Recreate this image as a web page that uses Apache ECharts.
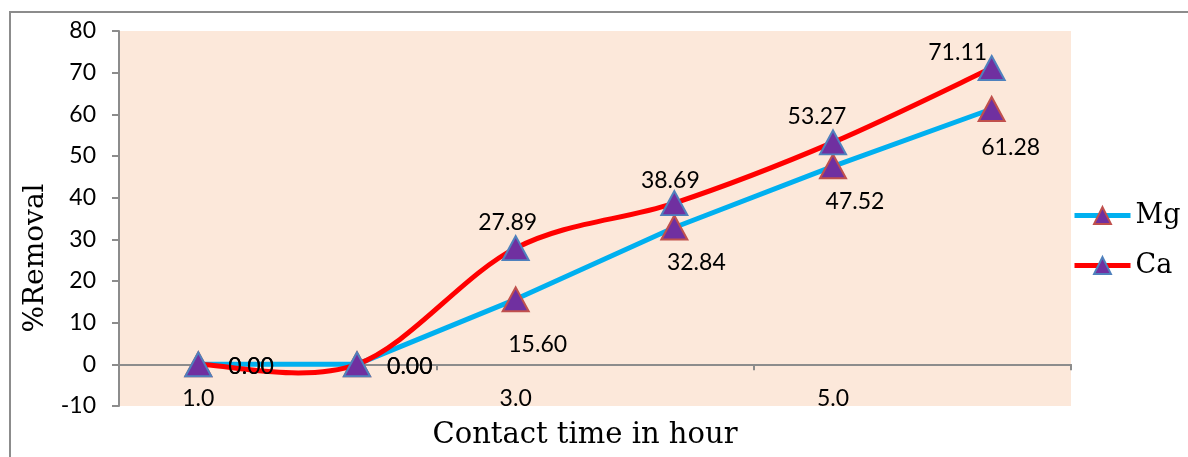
<!DOCTYPE html>
<html>
<head>
<meta charset="utf-8">
<script src="https://cdn.jsdelivr.net/npm/echarts@6/dist/echarts.min.js"></script>
<style>
html,body{margin:0;padding:0;background:#fff;}
#c{width:1188px;height:457px;}
</style>
</head>
<body>
<div id="c"></div>
<script>
const categories = ['1.0', '2.0', '3.0', '4.0', '5.0', '6.0'];
const mgValues = [0.00, 0.00, 15.60, 32.84, 47.52, 61.28];
const caValues = [0.00, 0.00, 27.89, 38.69, 53.27, 71.11];
const yTicks = { min: -10, max: 80, interval: 10 };

const chart = echarts.init(document.getElementById('c'));
const sansFont = 'Lato';
const serifFont = 'DejaVu Serif';
const tickStyle = { fontFamily: sansFont, fontSize: 23, color: '#000' };
const lblStyle = { fontFamily: sansFont, fontSize: 23, color: '#000' };

function fmt(v) { return v.toFixed(2); }

const mgData = mgValues.map((v, i) => {
  const lab = i < 2
    ? { position: 'right', distance: 16, offset: [0, 2] }
    : { position: 'bottom', distance: i === 2 ? 21 : (i === 5 ? 14 : 11), offset: [i === 5 ? 19 : 22, 0] };
  return { value: v, label: lab };
});
const caData = caValues.map((v, i) => {
  let lab;
  if (i < 2) lab = { position: 'right', distance: 16, offset: [0, 2] };
  else if (i === 5) lab = { position: 'top', distance: -9, offset: [-34, 0] };
  else lab = { position: 'top', distance: i === 3 ? -2 : 1, offset: [i === 4 ? -16 : (i === 3 ? -4 : -8), 0] };
  return { value: v, label: lab };
});

// Excel-style smoothed curve (Catmull-Rom Bezier) drawn through the axis scales
function caCurve(params, api) {
  if (params.dataIndex !== 0) return null;
  const pts = caValues.map((v, i) => api.coord([i, v]));
  const n = pts.length;
  const children = [];
  for (let i = 0; i < n - 1; i++) {
    const p0 = pts[Math.max(i - 1, 0)], p1 = pts[i], p2 = pts[i + 1], p3 = pts[Math.min(i + 2, n - 1)];
    children.push({
      type: 'bezierCurve',
      shape: {
        x1: p1[0], y1: p1[1], x2: p2[0], y2: p2[1],
        cpx1: p1[0] + (p2[0] - p0[0]) / 6, cpy1: p1[1] + (p2[1] - p0[1]) / 6,
        cpx2: p2[0] - (p3[0] - p1[0]) / 6, cpy2: p2[1] - (p3[1] - p1[1]) / 6
      },
      style: { stroke: '#FF0000', lineWidth: 5, fill: null, lineCap: 'round' }
    });
  }
  return { type: 'group', children: children };
}

chart.setOption({
  animation: false,
  backgroundColor: '#fff',
  grid: { left: 119, top: 31, right: 117, bottom: 51,
          show: true, backgroundColor: '#FCE8DA', borderWidth: 0 },
  legend: {
    orient: 'vertical', left: 1072, top: 202, padding: 0,
    itemWidth: 56, itemHeight: 21, itemGap: 23,
    textStyle: { fontFamily: serifFont, fontSize: 27, color: '#000' },
    data: [
      { name: 'Mg', lineStyle: { color: '#00B0F0', width: 5, opacity: 1 } },
      { name: 'Ca', lineStyle: { color: '#FF0000', width: 5, opacity: 1 } }
    ]
  },
  xAxis: {
    type: 'category', data: categories, boundaryGap: true,
    axisLine: { onZero: true, lineStyle: { color: '#8c8c8c', width: 2 } },
    axisTick: { show: true, length: 6, lineStyle: { color: '#8c8c8c', width: 2 } },
    axisLabel: { interval: 1, margin: -19, ...tickStyle },
    splitLine: { show: false }
  },
  yAxis: {
    type: 'value', min: yTicks.min, max: yTicks.max, interval: yTicks.interval,
    axisLine: { show: true, onZero: false, lineStyle: { color: '#8c8c8c', width: 2 } },
    axisTick: { show: true, length: 7, lineStyle: { color: '#8c8c8c', width: 2 } },
    axisLabel: { margin: 23, ...tickStyle },
    splitLine: { show: false }
  },
  graphic: [
    { type: 'polyline', shape: { points: [[10, 470], [10, 12], [1200, 12]] },
      style: { stroke: '#8c8c8c', lineWidth: 2, fill: null }, silent: true },
    { type: 'text', x: 585, y: 435, style: {
        text: 'Contact time in hour', font: '29px "' + serifFont + '"', fill: '#000',
        textAlign: 'center', textVerticalAlign: 'middle' } },
    { type: 'text', rotation: Math.PI / 2, x: 36, y: 258, style: {
        text: '%Removal', font: '28px "' + serifFont + '"', fill: '#000',
        textAlign: 'center', textVerticalAlign: 'middle' } }
  ],
  series: [
    {
      name: 'Mg', type: 'line', data: mgData, z: 3,
      lineStyle: { color: '#00B0F0', width: 5 },
      itemStyle: { color: '#7030A0', borderColor: '#C0504D', borderWidth: 2 },
      symbol: 'triangle', symbolSize: [26, 24], showAllSymbol: true,
      label: { show: true, formatter: p => fmt(p.value), ...lblStyle }
    },
    {
      type: 'custom', coordinateSystem: 'cartesian2d', z: 4, silent: true,
      data: caValues.map((v, i) => [i, v]),
      encode: { x: 0, y: 1 },
      renderItem: caCurve
    },
    {
      name: 'Ca', type: 'line', data: caData, z: 5,
      lineStyle: { color: '#FF0000', width: 5, opacity: 0 },
      itemStyle: { color: '#7030A0', borderColor: '#4F81BD', borderWidth: 2 },
      symbol: 'triangle', symbolSize: [26, 24], showAllSymbol: true,
      label: { show: true, formatter: p => fmt(p.value), ...lblStyle }
    }
  ]
});
</script>
</body>
</html>
